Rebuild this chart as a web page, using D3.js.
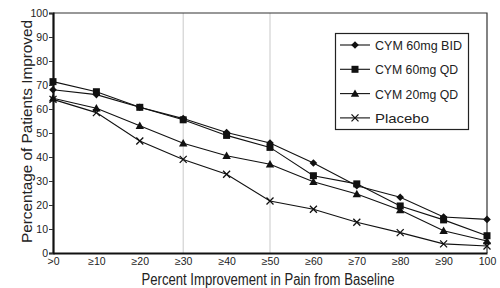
<!DOCTYPE html>
<html>
  <head>
    <meta charset="utf-8">
    <script src="https://d3js.org/d3.v7.min.js"></script>
    <style>
      body { margin: 0; background: #fff; }
      text { font-family: "Liberation Sans", Arial, sans-serif; fill: #222; }
    </style>
  </head>
<body>
  <script type="text/javascript">
    "use strict";
    // categories along x
    var categories = [">0", "\u226510", "\u226520", "\u226530", "\u226540", "\u226550",
                      "\u226560", "\u226570", "\u226580", "\u226590", "100"];
    var yTicks = [0, 10, 20, 30, 40, 50, 60, 70, 80, 90, 100];
    var gridCats = ["\u226530", "\u226550"];

    // series values (% of patients improved)
    var bid60 = [68, 66, 60.7, 56, 50.2, 45.8, 37.5, 28, 23.2, 15, 14];
    var qd60 = [71.4, 67.2, 60.7, 55.5, 49, 44, 32.2, 28.8, 19.6, 13.8, 7.2];
    var qd20 = [64.5, 60.3, 53, 45.7, 40.5, 37, 29.7, 24.6, 17.9, 9.3, 5];
    var placebo = [64, 58.5, 46.7, 39, 32.8, 21.7, 18.2, 12.8, 8.5, 3.8, 2.9];

    var seriesNames = ["CYM 60mg BID", "CYM 60mg QD", "CYM 20mg QD", "Placebo"];
    var seriesValues = [bid60, qd60, qd20, placebo];
    var seriesMarkers = ["diamond", "square", "triangle", "cross"];
    var legendWidths = [87, 83, 83, 54];

    var width = 500, height = 288;
    var plotLeft = 53, plotRight = 487, plotTop = 13, plotBottom = 253;

    var svg = d3.select("body").append("svg")
        .attr("width", width)
        .attr("height", height);

    var x = d3.scalePoint().domain(categories).range([plotLeft, plotRight]);
    var y = d3.scaleLinear().domain([0, 100]).range([plotBottom, plotTop]);

    // vertical grid lines
    svg.selectAll("line.grid").data(gridCats).enter().append("line")
        .attr("class", "grid")
        .attr("x1", function(d) { return x(d); })
        .attr("x2", function(d) { return x(d); })
        .attr("y1", plotTop).attr("y2", plotBottom)
        .attr("stroke", "#bbb").attr("stroke-width", 0.8);

    // frame top and right
    svg.append("path")
        .attr("d", "M" + plotLeft + "," + plotTop + "H" + plotRight + "V" + plotBottom)
        .attr("fill", "none").attr("stroke", "#333").attr("stroke-width", 1.2);

    // axes
    var yAxis = d3.axisLeft(y).tickValues(yTicks).tickSize(4).tickPadding(1);
    var gy = svg.append("g").attr("transform", "translate(" + plotLeft + ",0)").call(yAxis);
    gy.select(".domain").attr("stroke", "#111").attr("stroke-width", 2.2);
    gy.selectAll(".tick line").attr("stroke", "#333");
    gy.selectAll(".tick text").style("font-size", "10.5px").attr("fill", "#333");

    var xAxis = d3.axisBottom(x).tickSize(0).tickPadding(5);
    var gx = svg.append("g").attr("transform", "translate(0," + plotBottom + ")").call(xAxis);
    gx.select(".domain").attr("stroke", "#111").attr("stroke-width", 2.2);
    gx.selectAll(".tick text").style("font-size", "10.5px").attr("fill", "#333");

    // axis titles
    svg.append("text")
        .attr("x", 268)
        .attr("y", 284.5)
        .attr("text-anchor", "middle")
        .attr("textLength", 253)
        .attr("lengthAdjust", "spacingAndGlyphs")
        .style("font-size", "16px")
        .text("Percent Improvement in Pain from Baseline");
    svg.append("text")
        .attr("transform", "translate(32,131.5) rotate(-90)")
        .attr("text-anchor", "middle")
        .attr("textLength", 223)
        .attr("lengthAdjust", "spacingAndGlyphs")
        .style("font-size", "15.5px")
        .text("Percentage of Patients Improved");

    function drawMarker(g, type, cx, cy) {
      if (type === "diamond") {
        g.append("path").attr("d", "M" + cx + "," + (cy - 3.8) + "l3.8,3.8l-3.8,3.8l-3.8,-3.8z")
            .attr("fill", "#111");
      } else if (type === "square") {
        g.append("rect").attr("x", cx - 3.5).attr("y", cy - 3.5)
            .attr("width", 7).attr("height", 7).attr("fill", "#111");
      } else if (type === "triangle") {
        g.append("path").attr("d", "M" + cx + "," + (cy - 4.2) + "l4.2,7.4h-8.4z")
            .attr("fill", "#111");
      } else {
        g.append("path").attr("d", "M" + (cx - 3.5) + "," + (cy - 3.5) + "l7,7M" + (cx + 3.5) + "," + (cy - 3.5) + "l-7,7")
            .attr("stroke", "#111").attr("stroke-width", 1.3);
      }
    }

    var line = d3.line()
        .x(function(d, i) { return x(categories[i]); })
        .y(function(d) { return y(d); });

    seriesValues.forEach(function(vals, s) {
      var g = svg.append("g");
      g.append("path").datum(vals)
          .attr("d", line)
          .attr("fill", "none").attr("stroke", "#111").attr("stroke-width", 1.1);
      vals.forEach(function(v, i) {
        drawMarker(g, seriesMarkers[s], x(categories[i]), y(v));
      });
    });

    // legend
    var lg = svg.append("g");
    lg.append("rect").attr("x", 335.5).attr("y", 33.5).attr("width", 133).attr("height", 96)
        .attr("fill", "#fff").attr("stroke", "#222").attr("stroke-width", 1.2);
    seriesNames.forEach(function(name, s) {
      var ly = 45 + s * 24.3;
      lg.append("line").attr("x1", 340).attr("x2", 370).attr("y1", ly).attr("y2", ly)
          .attr("stroke", "#111").attr("stroke-width", 1.1);
      drawMarker(lg, seriesMarkers[s], 355, ly);
      lg.append("text").attr("x", 375).attr("y", ly + 5)
          .attr("textLength", legendWidths[s])
          .attr("lengthAdjust", "spacingAndGlyphs")
          .style("font-size", "13.5px").text(name);
    });
  </script>
</body>
</html>
